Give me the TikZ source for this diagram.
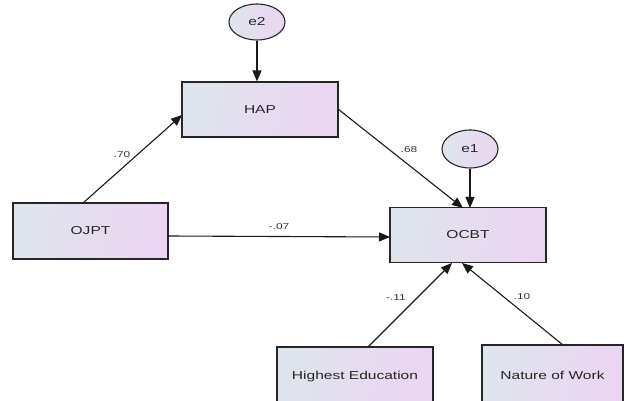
\documentclass[tikz,border=0pt]{standalone}
\usepackage{graphicx}
\usepackage{fontspec}
\setmainfont{Liberation Sans}
\usetikzlibrary{shapes.geometric,arrows.meta}
\definecolor{leftc}{HTML}{DEE5EC}
\definecolor{rightc}{HTML}{ECD5F2}
\newcommand{\widetext}[1]{\scalebox{1.35}[1]{#1}}
\newcommand{\widecoef}[1]{\scalebox{1.4}[1]{#1}}
\tikzset{
  varbox/.style={draw=black!85, line width=1.1pt, left color=leftc, right color=rightc, shading angle=80,
     minimum width=156pt, minimum height=55pt, inner sep=0pt, font=\fontsize{11.5}{13}\selectfont, text=black!85},
  errell/.style={ellipse, draw=black!85, line width=1.1pt, left color=leftc, right color=rightc,
     minimum width=56pt, minimum height=36pt, inner sep=0pt, font=\fontsize{11.5}{13}\selectfont, text=black!85},
  path/.style={draw=black!90, line width=1.1pt, -{Triangle[length=11pt,width=9pt]}},
  coef/.style={font=\fontsize{8.5}{10}\selectfont, text=black!80, inner sep=1pt}
}
\begin{document}
\begin{tikzpicture}[x=1pt,y=-1pt]
\useasboundingbox (0,0) rectangle (625,401);
\clip (0,0) rectangle (625,401);
\node[errell] (e2) at (257,22) {\widetext{e2}};
\node[varbox] (hap) at (260,109.5) {\widetext{HAP}};
\node[varbox, minimum width=155pt, minimum height=56pt] (ojpt) at (90.5,231) {\widetext{OJPT}};
\node[varbox] (ocbt) at (468,235) {\widetext{OCBT}};
\node[errell, minimum height=38pt] (e1) at (470,149) {\widetext{e1}};
\node[varbox, minimum width=156pt, minimum height=60pt] (hed) at (355,377) {\widetext{Highest Education}};
\node[varbox, minimum width=141pt, minimum height=60pt] (now) at (552.5,375) {\widetext{Nature of Work}};
\coordinate (ojptT) at (83,203);
\coordinate (hapL) at (182,115);
\coordinate (hapR) at (338,109);
\coordinate (ocbtT1) at (463,208);
\coordinate (ocbtT2) at (470,208);
\coordinate (ojptR) at (168,236);
\coordinate (ocbtL) at (390,237);
\coordinate (ocbtB1) at (452,263);
\coordinate (ocbtB2) at (462,263);
\coordinate (hedT) at (368,347);
\coordinate (nowT) at (563,345);
\draw[path] (e2.south) -- (hap.north -| e2.south);
\draw[path] (ojptT) -- (hapL);
\draw[path] (hapR) -- (ocbtT1);
\draw[path] (e1.south) -- (ocbtT2);
\draw[path] (ojptR) -- (ocbtL);
\draw[path] (hedT) -- (ocbtB1);
\draw[path] (nowT) -- (ocbtB2);
\node[coef] (l70) at (122,155) {\widecoef{.70}};
\node[coef] (l68) at (409,150) {\widecoef{.68}};
\node[coef] (l07) at (279,227) {\widecoef{-.07}};
\node[coef] (l11) at (396,298) {\widecoef{-.11}};
\node[coef] (l10) at (522,297) {\widecoef{.10}};
\end{tikzpicture}
\end{document}
